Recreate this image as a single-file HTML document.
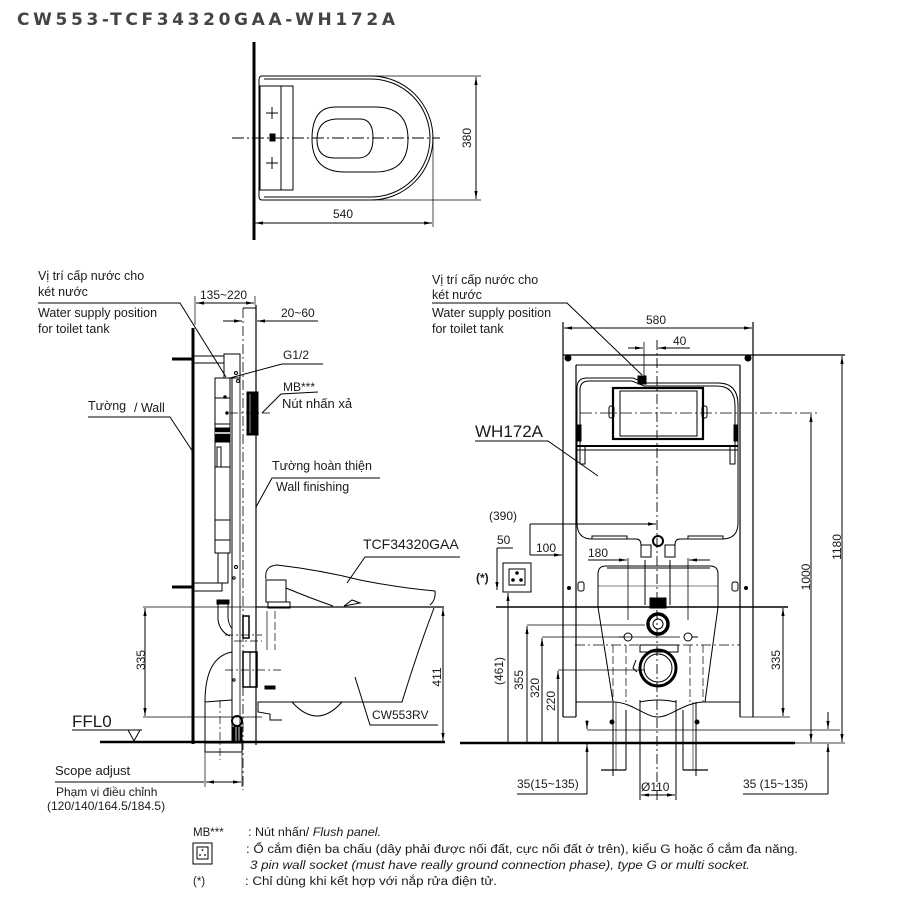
<!DOCTYPE html>
<html><head><meta charset="utf-8"><style>
html,body{margin:0;padding:0;background:#fff;}
svg{display:block;}
text{font-family:"Liberation Sans","Noto Sans CJK SC",sans-serif;fill:#1a1a1a;}
</style></head><body>
<svg width="900" height="900" viewBox="0 0 900 900" xmlns="http://www.w3.org/2000/svg">
<defs>
<marker id="a" viewBox="0 0 10 10" refX="10" refY="5" markerWidth="8" markerHeight="4" preserveAspectRatio="none" orient="auto-start-reverse" markerUnits="userSpaceOnUse"><path d="M0,1 L10,5 L0,9z" fill="#000"/></marker>
</defs>
<rect width="900" height="900" fill="#fff"/>
<!-- Title -->
<text x="17" y="25" font-size="17" font-weight="bold" style="font-family:'DejaVu Sans','Liberation Sans',sans-serif;fill:#444" textLength="378" lengthAdjust="spacing">CW553-TCF34320GAA-WH172A</text>

<g fill="none" stroke="#000" stroke-width="1">
<!-- ============ TOP VIEW ============ -->
<line x1="254" y1="42" x2="254" y2="240" stroke-width="3"/>
<path d="M262,76 H371 A62,62 0 0 1 371,200 H262 Q259,200 259,196 V80 Q259,76 262,76Z"/>
<path d="M264,79 H371 A59,59 0 0 1 371,197 H264"/>
<path d="M335,107 H375 Q408,107 408,139 Q408,172 375,172 H345 Q312,172 312,139 Q312,107 335,107Z"/>
<path d="M338,119 H360 Q373,119 373,138 Q373,158 358,158 H335 Q317,158 317,140 Q317,119 338,119Z"/>
<rect x="260" y="86" width="33" height="104"/>
<line x1="281" y1="86" x2="281" y2="190"/>
<line x1="266" y1="113" x2="278" y2="113"/><line x1="272" y1="107" x2="272" y2="119"/>
<line x1="266" y1="163" x2="278" y2="163"/><line x1="272" y1="157" x2="272" y2="169"/>
<rect x="270" y="134" width="5" height="7" fill="#000"/>
<line x1="232" y1="138" x2="440" y2="138" stroke-dasharray="12 3 2 3"/>
<line x1="371" y1="76" x2="481" y2="76" stroke-width="0.7"/>
<line x1="371" y1="200" x2="481" y2="200" stroke-width="0.7"/>
<line x1="476" y1="77" x2="476" y2="199" marker-start="url(#a)" marker-end="url(#a)"/>
<line x1="433" y1="140" x2="433" y2="227" stroke-width="0.7"/>
<line x1="255" y1="223" x2="432" y2="223" marker-start="url(#a)" marker-end="url(#a)"/>

<!-- ============ SIDE VIEW ============ -->
<line x1="193" y1="328" x2="193" y2="744" stroke-width="3"/>
<line x1="172" y1="359" x2="193" y2="359" stroke-width="3"/>
<line x1="172" y1="587" x2="193" y2="587" stroke-width="3"/>
<rect x="194" y="356" width="30" height="7"/>
<rect x="224" y="354" width="16" height="24"/>
<rect x="194" y="583" width="28" height="8"/>
<line x1="232" y1="378" x2="232" y2="742"/>
<line x1="240" y1="354" x2="240" y2="742" stroke-width="0.8"/>
<rect x="215" y="378" width="15" height="175"/>
<line x1="215" y1="398" x2="230" y2="398"/>
<line x1="215" y1="424" x2="230" y2="424"/>
<rect x="215" y="428" width="15" height="14" fill="#000"/>
<line x1="215" y1="433" x2="230" y2="433" stroke="#fff" stroke-width="1.5"/>
<rect x="217" y="447" width="4" height="20"/>
<line x1="215" y1="467" x2="230" y2="467"/>
<line x1="215" y1="520" x2="230" y2="520"/>
<line x1="215" y1="540" x2="230" y2="540"/>
<rect x="218" y="553" width="10" height="30"/>
<rect x="217" y="600" width="12" height="4" fill="#000"/>
<path d="M218,604 V620 Q220,632 230,636"/>
<path d="M228,604 V618 Q229,626 232,628"/>
<circle cx="225" cy="397" r="1.2" fill="#000"/>
<circle cx="227" cy="413" r="1.2" fill="#000"/>
<circle cx="236" cy="373" r="1.5"/><circle cx="238" cy="381" r="1.5"/>
<circle cx="236" cy="567" r="1.5"/><circle cx="234" cy="578" r="1.2"/>
<circle cx="234" cy="680" r="1.2"/>
<line x1="243" y1="308" x2="243" y2="790" stroke-dasharray="10 3 2 3" stroke-width="0.8"/>
<line x1="256" y1="305" x2="256" y2="745" stroke-width="1.2"/>
<line x1="243" y1="308" x2="256" y2="308"/>
<rect x="247" y="392" width="11" height="43" fill="#000"/>
<line x1="250" y1="394" x2="250" y2="433" stroke="#fff" stroke-width="0.6"/>
<line x1="230" y1="413" x2="272" y2="413" stroke-dasharray="8 3 2 3" stroke-width="0.8"/>
<circle cx="237" cy="721" r="5" stroke-width="2"/>
<rect x="233" y="727" width="9" height="15" fill="#000"/>
<line x1="236" y1="727" x2="236" y2="742" stroke="#fff" stroke-width="0.8"/>
<line x1="239" y1="727" x2="239" y2="742" stroke="#fff" stroke-width="0.8"/>
<rect x="205" y="743" width="37" height="9"/>
<path d="M205,742 V702 Q205,657 232,652"/>
<line x1="205" y1="702" x2="232" y2="700"/>
<line x1="220" y1="700" x2="220" y2="760" stroke-dasharray="8 3 2 3" stroke-width="0.7"/>
<line x1="205" y1="752" x2="205" y2="787" stroke-width="0.7"/>
<line x1="242" y1="752" x2="242" y2="787" stroke-width="0.7"/>
<line x1="55" y1="782" x2="204" y2="782"/>
<line x1="206" y1="782" x2="241" y2="782" marker-start="url(#a)" marker-end="url(#a)"/>
<rect x="243" y="652" width="14" height="35" stroke-width="1.5"/>
<line x1="250" y1="652" x2="250" y2="687"/>
<rect x="243" y="616" width="6" height="22" stroke-width="1.5"/>
<line x1="225" y1="670" x2="282" y2="670" stroke-dasharray="8 3 2 3" stroke-width="0.7"/>
<line x1="225" y1="635" x2="262" y2="635" stroke-dasharray="8 3 2 3" stroke-width="0.7"/>
<line x1="234" y1="641" x2="262" y2="641" stroke-dasharray="8 3 2 3" stroke-width="0.7"/>
<line x1="267" y1="611" x2="267" y2="650" stroke-width="0.7"/>
<line x1="275" y1="611" x2="275" y2="650" stroke-dasharray="8 3" stroke-width="0.7"/>
<rect x="265" y="686" width="10" height="3" fill="#000"/>
<path d="M266,579 Q264,566 277,565 Q320,570 360,580 Q400,588 435,591 Q436,600 430,605"/>
<path d="M286,588 Q310,598 333,606"/>
<rect x="266" y="580" width="20" height="22"/>
<rect x="268" y="602" width="22" height="6"/>
<path d="M344,606 L352,600 L360,603 Z"/>
<line x1="256" y1="607" x2="444" y2="607" stroke-width="1.2"/>
<path d="M434,608 Q418,650 402,702 H258 V712 L270,714 V720 H282"/>
<path d="M292,702 Q317,730 342,702"/>
<line x1="143" y1="607" x2="256" y2="607" stroke-width="0.7"/>
<line x1="143" y1="717" x2="262" y2="717" stroke-width="0.7"/>
<line x1="145" y1="608" x2="145" y2="716" marker-start="url(#a)" marker-end="url(#a)"/>
<line x1="443" y1="608" x2="443" y2="741" marker-start="url(#a)" marker-end="url(#a)"/>
<line x1="100" y1="742" x2="445" y2="742" stroke-width="2.5"/>
<line x1="72" y1="730" x2="142" y2="730"/>
<path d="M128,730 L140,730 L134,741 Z"/>
<line x1="195" y1="296" x2="195" y2="325" stroke-width="0.7"/>
<line x1="255" y1="296" x2="255" y2="305" stroke-width="0.7"/>
<line x1="196" y1="303" x2="254" y2="303" marker-start="url(#a)" marker-end="url(#a)"/>
<line x1="223" y1="321" x2="242" y2="321" marker-end="url(#a)"/>
<line x1="265" y1="321" x2="318" y2="321"/>
<line x1="257" y1="321" x2="265" y2="321" marker-start="url(#a)"/>
<polyline points="38,303 180,303 226,377"/>
<polyline points="323,364 282,364 230,378"/>
<polyline points="318,392 281,394 262,413"/>
<polyline points="88,417 170,417 193,452"/>
<polyline points="380,478 272,478 256,507"/>
<polyline points="460,557 365,557 347,583"/>
<polyline points="438,725 370,725 355,677"/>

<!-- ============ FRONT VIEW ============ -->
<line x1="563" y1="322" x2="563" y2="717" stroke-width="1.2"/>
<line x1="576" y1="365" x2="576" y2="717" stroke-width="1.2"/>
<line x1="753" y1="322" x2="753" y2="717" stroke-width="1.2"/>
<line x1="740" y1="365" x2="740" y2="717" stroke-width="1.2"/>
<line x1="563" y1="355" x2="845" y2="355" stroke-width="1.2"/>
<line x1="576" y1="365" x2="740" y2="365"/>
<circle cx="568" cy="358" r="3" fill="#000"/><circle cx="748" cy="358" r="3" fill="#000"/>
<line x1="563" y1="717" x2="576" y2="717"/>
<line x1="740" y1="717" x2="790" y2="717" stroke-width="0.8"/>
<line x1="576" y1="702" x2="612" y2="702"/>
<line x1="705" y1="702" x2="740" y2="702"/>
<circle cx="569" cy="588" r="1.5" fill="#000"/><circle cx="746" cy="588" r="1.5" fill="#000"/>
<rect x="578" y="582" width="6" height="9" rx="2"/><rect x="732" y="582" width="6" height="9" rx="2"/>
<path d="M577,446 V388 Q577,378 587,378 H633 L645,383 H718 Q738,383 738,405 V523 Q738,539 722,539 H680 Q675,539 675,545 V553 M641,553 V545 Q641,539 636,539 H592 Q577,539 577,523 V446"/>
<path d="M580,446 V390 Q580,381 589,381 H632 L644,386 H717 Q735,386 735,406 V446"/>
<rect x="577" y="425" width="4" height="16" fill="#000"/>
<rect x="734" y="425" width="4" height="16" fill="#000"/>
<rect x="580" y="446" width="5" height="18"/><rect x="730" y="446" width="5" height="18"/>
<line x1="577" y1="446" x2="738" y2="446" stroke-width="2"/>
<line x1="577" y1="450" x2="738" y2="450"/>
<rect x="613" y="388" width="90" height="51" stroke-width="2.2"/>
<rect x="620" y="391" width="77" height="45"/>
<rect x="609" y="406" width="5" height="12" rx="2"/><rect x="702" y="406" width="5" height="12" rx="2"/>
<rect x="638" y="376" width="8" height="8" fill="#000"/>
<line x1="580" y1="413" x2="817" y2="413" stroke-dasharray="12 3 2 3" stroke-width="0.8"/>
<rect x="592" y="536" width="35" height="3"/><rect x="688" y="536" width="35" height="3"/>
<rect x="641" y="545" width="10" height="12"/><rect x="665" y="545" width="10" height="12"/>
<circle cx="658" cy="541" r="5" stroke-width="2"/>
<line x1="657" y1="340" x2="657" y2="800" stroke-dasharray="10 3 2 3" stroke-width="0.9"/>
<path d="M598,607 V574 Q598,566 606,566 H710 Q718,566 718,574 V607"/>
<line x1="607" y1="568" x2="710" y2="568"/>
<line x1="598" y1="586" x2="718" y2="586" stroke-width="0.6"/>
<line x1="496" y1="607" x2="788" y2="607" stroke-width="1.6"/>
<path d="M598,607 L613,702 C632,702 645,717 658,717 C671,717 684,702 705,702 L718,607"/>
<rect x="650" y="598" width="16" height="10" fill="#000"/>
<line x1="628" y1="558" x2="628" y2="620" stroke-width="0.8"/>
<line x1="688" y1="558" x2="688" y2="620" stroke-width="0.8"/>
<line x1="645" y1="560" x2="645" y2="605"/><line x1="670" y1="560" x2="670" y2="605"/>
<circle cx="658" cy="624" r="10" stroke-width="3.5"/>
<circle cx="658" cy="624" r="5"/>
<circle cx="628" cy="637" r="4"/><circle cx="688" cy="637" r="4"/>
<line x1="619" y1="637" x2="624" y2="637"/><line x1="692" y1="637" x2="698" y2="637"/>
<line x1="575" y1="645" x2="740" y2="645" stroke-dasharray="10 3 2 3" stroke-width="0.8"/>
<rect x="640" y="645" width="38" height="7"/>
<circle cx="658" cy="668" r="18" stroke-width="3"/>
<circle cx="658" cy="668" r="14"/>
<path d="M636,660 L633,668 L637,672"/>
<line x1="613" y1="645" x2="613" y2="702" stroke-dasharray="8 3" stroke-width="0.7"/>
<line x1="626" y1="645" x2="626" y2="702" stroke-dasharray="8 3" stroke-width="0.7"/>
<line x1="690" y1="645" x2="690" y2="702" stroke-dasharray="8 3" stroke-width="0.7"/>
<line x1="703" y1="645" x2="703" y2="702" stroke-dasharray="8 3" stroke-width="0.7"/>
<line x1="613" y1="702" x2="613" y2="770"/><line x1="626" y1="710" x2="626" y2="770"/>
<line x1="683" y1="710" x2="683" y2="770"/><line x1="696" y1="702" x2="696" y2="770"/>
<line x1="616" y1="702" x2="616" y2="770" stroke-width="0.6"/><line x1="693" y1="702" x2="693" y2="770" stroke-width="0.6"/>
<line x1="601" y1="770" x2="626" y2="770" stroke-width="1.2"/>
<line x1="683" y1="770" x2="708" y2="770" stroke-width="1.2"/>
<line x1="613" y1="765" x2="613" y2="776"/><line x1="696" y1="765" x2="696" y2="776"/>
<circle cx="612" cy="722" r="2" fill="#000"/><circle cx="697" cy="722" r="2" fill="#000"/>
<line x1="640" y1="700" x2="640" y2="800"/><line x1="676" y1="700" x2="676" y2="800"/>
<path d="M640,702 Q658,698 676,702"/>
<line x1="641" y1="795" x2="675" y2="795" marker-start="url(#a)" marker-end="url(#a)"/>
<line x1="460" y1="743" x2="795" y2="743" stroke-width="2.5"/>
<line x1="795" y1="743" x2="845" y2="743" stroke-width="0.8"/>
<line x1="587" y1="730" x2="840" y2="730" stroke-width="0.8"/>
<line x1="564" y1="328" x2="752" y2="328" marker-start="url(#a)" marker-end="url(#a)"/>
<line x1="628" y1="348" x2="643" y2="348" marker-end="url(#a)"/>
<line x1="644" y1="342" x2="644" y2="380" stroke-width="0.8"/>
<line x1="690" y1="348" x2="658" y2="348" marker-end="url(#a)"/>
<line x1="811" y1="414" x2="811" y2="742" marker-start="url(#a)" marker-end="url(#a)"/>
<line x1="842" y1="356" x2="842" y2="742" marker-start="url(#a)" marker-end="url(#a)"/>
<line x1="530" y1="524" x2="656" y2="524" marker-end="url(#a)"/>
<line x1="530" y1="524" x2="530" y2="555"/>
<line x1="530" y1="555" x2="562" y2="555" marker-end="url(#a)"/>
<line x1="497" y1="548" x2="513" y2="548"/>
<line x1="497" y1="548" x2="497" y2="590" marker-end="url(#a)"/>
<line x1="588" y1="560" x2="627" y2="560" marker-end="url(#a)"/>
<line x1="710" y1="560" x2="689" y2="560" marker-end="url(#a)"/>
<rect x="503" y="563" width="28" height="29"/>
<rect x="509" y="569" width="16" height="16"/>
<circle cx="517" cy="573" r="1.3" fill="#000"/><circle cx="513" cy="580" r="1.3" fill="#000"/><circle cx="521" cy="580" r="1.3" fill="#000"/>
<line x1="508" y1="742" x2="508" y2="593" marker-end="url(#a)"/>
<line x1="527" y1="742" x2="527" y2="626" marker-end="url(#a)"/>
<line x1="527" y1="625" x2="645" y2="625" stroke-width="0.7"/>
<line x1="542" y1="742" x2="542" y2="638" marker-end="url(#a)"/>
<line x1="542" y1="637" x2="680" y2="637" stroke-width="0.7"/>
<line x1="558" y1="742" x2="558" y2="671" marker-end="url(#a)"/>
<line x1="558" y1="670" x2="645" y2="670" stroke-width="0.7"/>
<line x1="783" y1="608" x2="783" y2="716" marker-start="url(#a)" marker-end="url(#a)"/>
<line x1="587" y1="720" x2="587" y2="729" marker-end="url(#a)"/>
<line x1="587" y1="794" x2="587" y2="744" marker-end="url(#a)"/>
<line x1="517" y1="794" x2="587" y2="794"/>
<line x1="828" y1="712" x2="828" y2="729" marker-end="url(#a)"/>
<line x1="828" y1="794" x2="828" y2="744" marker-end="url(#a)"/>
<line x1="743" y1="794" x2="828" y2="794"/>
<polyline points="432,303 567,303 642,375"/>
<polyline points="475,441 548,441 598,476"/>
<rect x="193" y="843" width="19" height="21"/>
<rect x="197" y="847" width="11" height="12"/>
</g>
<g fill="#000"><circle cx="202.5" cy="850" r="0.9"/><circle cx="200" cy="855" r="0.9"/><circle cx="205" cy="855" r="0.9"/></g>

<g font-size="12.5">
<text x="38" y="280">Vị trí cấp nước cho</text>
<text x="38" y="296">két nước</text>
<text x="38" y="317">Water supply position</text>
<text x="38" y="333">for toilet tank</text>
<text x="200" y="299" font-size="12">135~220</text>
<text x="281" y="317" font-size="12">20~60</text>
<text x="283" y="359" font-size="12">G1/2</text>
<text x="283" y="391" font-size="12">MB***</text>
<text x="282" y="408" font-size="13">Nút nhấn xả</text>
<text x="88" y="410">Tường</text>
<text x="134" y="412">/ Wall</text>
<text x="272" y="470">Tường hoàn thiện</text>
<text x="276" y="491">Wall finishing</text>
<text x="363" y="549" font-size="14">TCF34320GAA</text>
<text x="372" y="719" font-size="12">CW553RV</text>
<text x="72" y="727" font-size="17">FFL0</text>
<text x="55" y="775" font-size="13">Scope adjust</text>
<text x="56" y="796" font-size="12">Phạm vi điều chỉnh</text>
<text x="47" y="810" font-size="12">(120/140/164.5/184.5)</text>
<text x="343" y="218" font-size="12" text-anchor="middle">540</text>
<text transform="translate(471,138) rotate(-90)" font-size="12" text-anchor="middle">380</text>
<text transform="translate(145,660) rotate(-90)" font-size="12" text-anchor="middle">335</text>
<text transform="translate(441,677) rotate(-90)" font-size="12" text-anchor="middle">411</text>

<text x="432" y="284">Vị trí cấp nước cho</text>
<text x="432" y="299">két nước</text>
<text x="432" y="317">Water supply position</text>
<text x="432" y="333">for toilet tank</text>
<text x="656" y="324" font-size="12" text-anchor="middle">580</text>
<text x="673" y="345" font-size="12">40</text>
<text x="475" y="437" font-size="17">WH172A</text>
<text x="489" y="520" font-size="12">(390)</text>
<text x="497" y="544" font-size="12">50</text>
<text x="536" y="552" font-size="12">100</text>
<text x="476" y="582" font-size="12" font-weight="bold">(*)</text>
<text x="588" y="557" font-size="12">180</text>
<text transform="translate(503,671) rotate(-90)" font-size="12" text-anchor="middle">(461)</text>
<text transform="translate(523,680) rotate(-90)" font-size="12" text-anchor="middle">355</text>
<text transform="translate(539,688) rotate(-90)" font-size="12" text-anchor="middle">320</text>
<text transform="translate(555,701) rotate(-90)" font-size="12" text-anchor="middle">220</text>
<text transform="translate(780,660) rotate(-90)" font-size="12" text-anchor="middle">335</text>
<text transform="translate(810,577) rotate(-90)" font-size="12" text-anchor="middle">1000</text>
<text transform="translate(841,547) rotate(-90)" font-size="12" text-anchor="middle">1180</text>
<text x="517" y="788" font-size="12">35(15~135)</text>
<text x="641" y="791" font-size="12">Ø110</text>
<text x="743" y="788" font-size="12">35 (15~135)</text>
</g>

<g font-size="11.5">
<text x="193" y="836">MB***</text>
<text x="248" y="836" textLength="133" lengthAdjust="spacingAndGlyphs">: Nút nhấn/ <tspan font-style="italic">Flush panel.</tspan></text>
<text x="246" y="853" textLength="552" lengthAdjust="spacingAndGlyphs">: Ổ cắm điện ba chấu (dây phải được nối đất, cực nối đất ở trên), kiểu G hoặc ổ cắm đa năng.</text>
<text x="250" y="869" font-style="italic" textLength="500" lengthAdjust="spacingAndGlyphs">3 pin wall socket (must have really ground connection phase), type G or multi socket.</text>
<text x="193" y="885">(*)</text>
<text x="245" y="885" textLength="252" lengthAdjust="spacingAndGlyphs">: Chỉ dùng khi kết hợp với nắp rửa điện tử.</text>
</g>
</svg>
</body></html>
